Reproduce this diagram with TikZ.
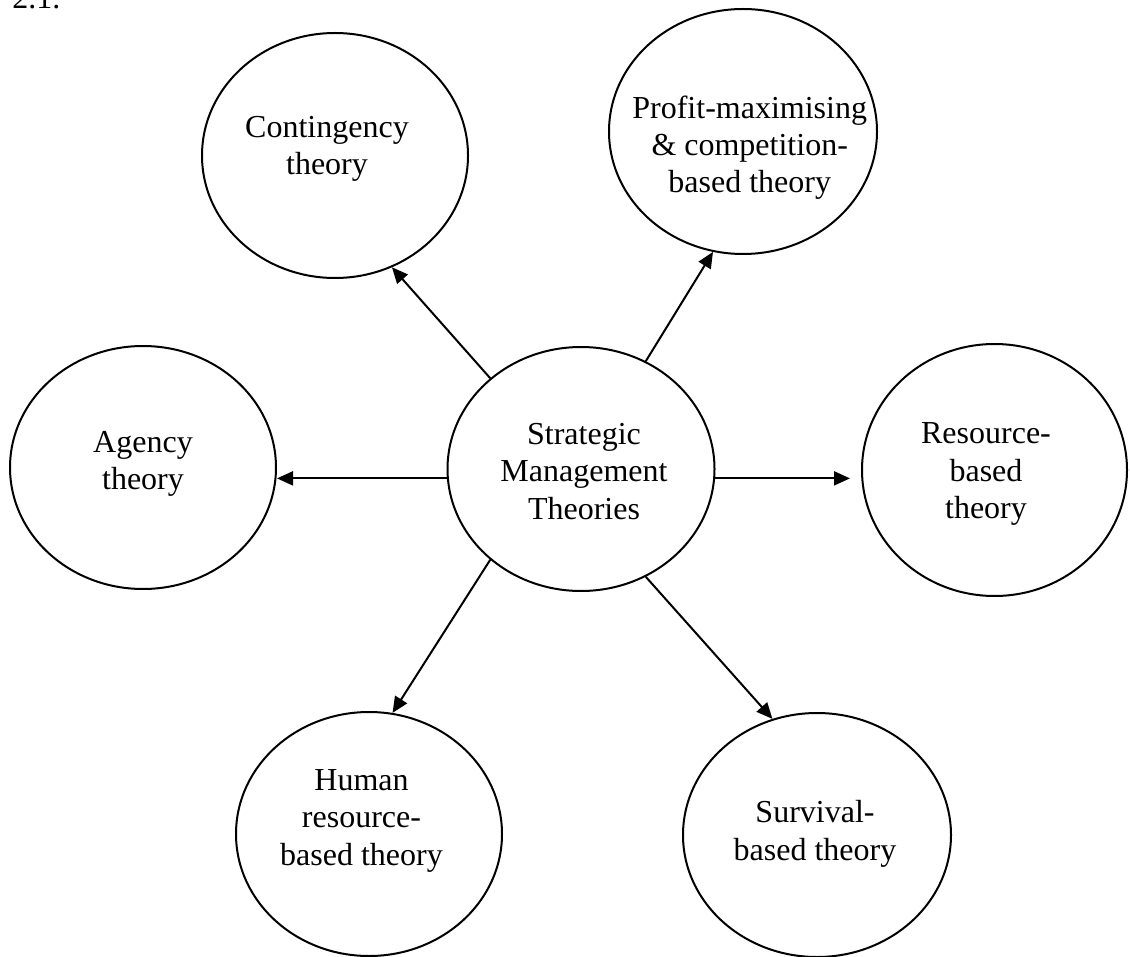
\documentclass[tikz,border=0pt]{standalone}
\usepackage{fontspec}
\setmainfont{Liberation Serif}
\usetikzlibrary{arrows.meta,shapes.geometric}
\begin{document}
\begin{tikzpicture}[x=0.5pt,y=-0.5pt,
  bubble/.style={ellipse,draw,line width=1pt,inner sep=0pt},
  lbl/.style={font=\fontsize{16pt}{18.6pt}\selectfont,align=center,inner sep=0pt},
  arr/.style={line width=1pt,-{Triangle[length=8pt,width=7pt]}}]
\useasboundingbox (0,0) rectangle (1130,957);
% heading fragment
\node[lbl,anchor=base west] (fig) at (12,8.3) {2.1.};
% bubbles
\node[bubble,minimum width=133pt,minimum height=122.5pt,
  label={[lbl,xshift=-4pt,yshift=3.5pt]center:Contingency\\theory}] (cont) at (335,155.5) {};
\node[bubble,minimum width=134pt,minimum height=122.5pt,
  label={[lbl,xshift=3.35pt,yshift=-8pt]center:Profit-maximising\\\& competition-\\based theory}] (prof) at (743,131.5) {};
\node[bubble,minimum width=133pt,minimum height=121.5pt,
  label={[lbl,xshift=0pt,yshift=1.65pt]center:Agency\\theory}] (agen) at (143,467.5) {};
\node[bubble,minimum width=133.5pt,minimum height=122pt,
  label={[lbl,xshift=1.5pt,yshift=-1.2pt]center:Strategic\\Management\\Theories}] (cent) at (581,469) {};
\node[bubble,minimum width=132.5pt,minimum height=126pt,
  label={[lbl,xshift=-4.25pt,yshift=-2.05pt]center:Resource-\\based\\theory}] (reso) at (994.5,470) {};
\node[bubble,minimum width=133pt,minimum height=122pt,
  label={[lbl,xshift=-3.75pt,yshift=6.6pt]center:Human\\resource-\\based theory}] (huma) at (369,834) {};
\node[bubble,minimum width=134pt,minimum height=122pt,
  label={[lbl,xshift=-1pt,yshift=0.55pt]center:Survival-\\based theory}] (surv) at (817,835) {};
% connectors
\draw[arr] (cent.135) -- (cont.297.5);
\draw[arr] (cent.59) -- (prof.256.4);
\draw[arr] (cent.184) -- (agen.east |- cent.184);
\draw[arr] (cent.356) -- ([xshift=-5.5pt]reso.west |- cent.356);
\draw[arr] (cent.225) -- (huma.79);
\draw[arr] (cent.301.5) -- (surv.111.4);
\end{tikzpicture}
\end{document}
